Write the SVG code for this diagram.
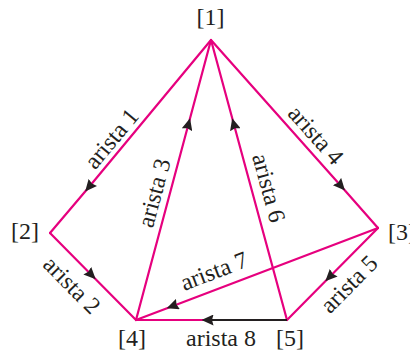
<svg xmlns="http://www.w3.org/2000/svg" width="410" height="353" viewBox="0 0 410 353">
<defs>
<style>
.e{fill:none;stroke:#e6007e;stroke-width:2.2;stroke-linecap:round;marker-mid:url(#ar)}
.d{fill:none;stroke:#231f20;stroke-width:2.2;marker-end:url(#ar)}
.p{fill:none;stroke:#e6007e;stroke-width:2.2;stroke-linecap:round}
text{font-family:"Liberation Serif","Times New Roman",serif;font-size:24px;fill:#231f20}
.l{text-anchor:middle;dominant-baseline:central}
.n{text-anchor:middle}
</style>
<marker id="ar" viewBox="0 0 12 11" markerWidth="12" markerHeight="11" refX="6" refY="5.5" orient="auto" markerUnits="userSpaceOnUse">
<path d="M0,0 L12,5.5 L0,11 L1.5,5.5 Z" fill="#231f20"/>
</marker>
</defs>
<g id="connectors">
<path class="e" d="M211,40 L89,187 L50,233"/>
<path class="e" d="M50,233 L91.5,275 L136,320"/>
<path class="e" d="M136,320 L188.5,124 L211,40"/>
<path class="e" d="M211,40 L341,186 L378,228"/>
<path class="e" d="M378,228 L329.5,277 L287,320"/>
<path class="e" d="M287,320 L233.8,124 L211,40"/>
<path class="e" d="M378,228 L172.3,306.2 L136,320"/>
<path class="p" d="M207.5,320 L136,320"/>
<path class="d" d="M287,320 L207.5,320"/>
<text class="l" transform="translate(111.5,138.5) rotate(-50.2)">arista 1</text>
<text class="l" transform="translate(72,285) rotate(45.3)">arista 2</text>
<text class="l" transform="translate(154,193) rotate(-75)">arista 3</text>
<text class="l" transform="translate(316,135) rotate(48.4)">arista 4</text>
<text class="l" transform="translate(349,284) rotate(-45.3)">arista 5</text>
<text class="l" transform="translate(269,188) rotate(74.8)">arista 6</text>
<text class="l" transform="translate(214,271) rotate(-20.8)">arista 7</text>
<text class="n" x="221" y="346">arista 8</text>
</g>
<g id="node1"><text class="n" x="210.5" y="25">[1]</text></g>
<g id="node2"><text class="n" x="25" y="239">[2]</text></g>
<g id="node3"><text x="388" y="240">[3]</text></g>
<g id="node4"><text class="n" x="132" y="346">[4]</text></g>
<g id="node5"><text class="n" x="290" y="346">[5]</text></g>
</svg>
